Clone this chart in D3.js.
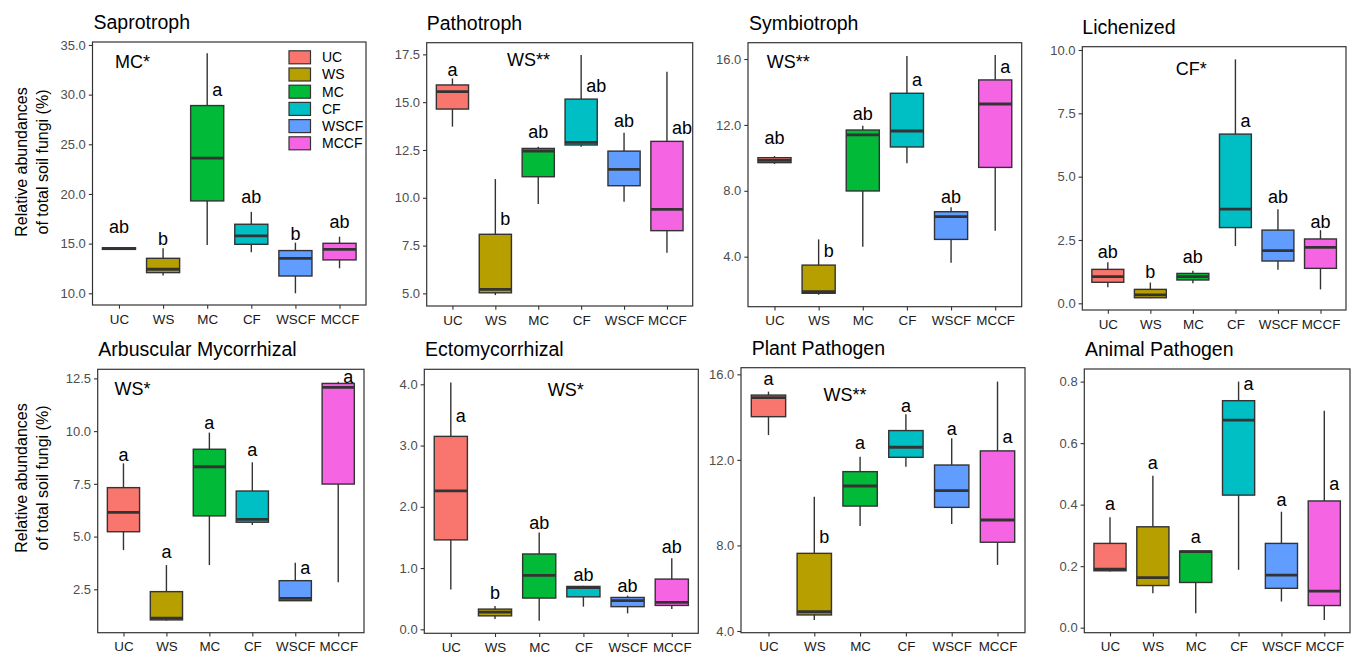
<!DOCTYPE html>
<html>
<head>
<meta charset="utf-8">
<script src="https://cdn.jsdelivr.net/npm/d3@7"></script>
<style>
  body { margin: 0; background: #fff; }
  text { font-family: "Liberation Sans", Arial, sans-serif; }
</style>
</head>
<body>
<div id="container"></div>
<script>
// groups and panel names
var groups = ["UC", "WS", "MC", "CF", "WSCF", "MCCF"];
var titles = ["Saprotroph", "Pathotroph", "Symbiotroph", "Lichenized",
              "Arbuscular Mycorrhizal", "Ectomycorrhizal", "Plant Pathogen", "Animal Pathogen"];

// box stats per group: [lower whisker, q1, median, q3, upper whisker]
var saprotroph = [
  [14.38, 14.42, 14.5, 14.58, 14.62],
  [11.8, 12.08, 12.42, 13.52, 14.53],
  [14.87, 19.3, 23.6, 28.9, 34.16],
  [14.13, 14.93, 15.77, 16.95, 18.2],
  [10.0, 11.74, 13.52, 14.3, 15.1],
  [12.52, 13.36, 14.43, 15.03, 15.7]
];
var pathotroph = [
  [13.72, 14.64, 15.55, 15.9, 16.24],
  [4.91, 5.03, 5.21, 8.09, 10.98],
  [9.67, 11.1, 12.44, 12.58, 12.67],
  [12.67, 12.76, 12.9, 15.16, 17.47],
  [9.79, 10.63, 11.49, 12.44, 13.4],
  [7.13, 8.28, 9.39, 12.95, 16.59]
];
var symbiotroph = [
  [9.63, 9.71, 9.85, 10.01, 10.11],
  [1.69, 1.78, 1.88, 3.49, 5.05],
  [4.61, 7.99, 11.39, 11.69, 11.95],
  [9.67, 10.66, 11.63, 13.92, 16.18],
  [3.64, 5.05, 6.43, 6.73, 7.0],
  [5.58, 9.42, 13.27, 14.73, 16.24]
];
var lichenized = [
  [0.63, 0.83, 1.05, 1.34, 1.62],
  [0.2, 0.22, 0.33, 0.55, 0.82],
  [0.79, 0.92, 1.05, 1.18, 1.29],
  [2.26, 2.99, 3.72, 6.68, 9.63],
  [1.32, 1.67, 2.08, 2.89, 3.71],
  [0.55, 1.38, 2.21, 2.54, 2.89]
];
var arbuscular = [
  [4.36, 5.23, 6.15, 7.32, 8.47],
  [1.02, 1.05, 1.13, 2.39, 3.65],
  [3.65, 5.98, 8.31, 9.14, 9.93],
  [5.55, 5.68, 5.82, 7.16, 8.52],
  [1.94, 1.96, 2.07, 2.91, 3.76],
  [2.83, 7.49, 12.07, 12.26, 12.34]
];
var ectomycorrhizal = [
  [0.65, 1.46, 2.26, 3.15, 4.03],
  [0.17, 0.22, 0.28, 0.33, 0.38],
  [0.14, 0.51, 0.88, 1.23, 1.58],
  [0.37, 0.53, 0.68, 0.70, 0.71],
  [0.26, 0.37, 0.47, 0.52, 0.55],
  [0.33, 0.39, 0.44, 0.82, 1.16]
];
var plantPathogen = [
  [13.16, 14.02, 14.91, 15.03, 15.19],
  [4.51, 4.75, 4.9, 7.63, 10.28],
  [8.91, 9.84, 10.78, 11.45, 12.15],
  [11.68, 12.12, 12.59, 13.37, 14.13],
  [9.0, 9.78, 10.56, 11.76, 13.01],
  [7.09, 8.15, 9.19, 12.42, 15.66]
];
var animalPathogen = [
  [0.183, 0.185, 0.19, 0.274, 0.359],
  [0.112, 0.137, 0.163, 0.328, 0.494],
  [0.047, 0.147, 0.247, 0.249, 0.25],
  [0.188, 0.431, 0.675, 0.738, 0.8],
  [0.085, 0.128, 0.171, 0.274, 0.377],
  [0.025, 0.072, 0.119, 0.412, 0.705]
];
var series = [saprotroph, pathotroph, symbiotroph, lichenized,
              arbuscular, ectomycorrhizal, plantPathogen, animalPathogen];

// significance letters and the value each one sits at
var letters = [
  ["ab", "b", "a", "ab", "b", "ab"],
  ["a", "b", "ab", "ab", "ab", "ab"],
  ["ab", "b", "ab", "a", "ab", "a"],
  ["ab", "b", "ab", "a", "ab", "ab"],
  ["a", "a", "a", "a", "a", "a"],
  ["a", "b", "ab", "ab", "ab", "ab"],
  ["a", "b", "a", "a", "a", "a"],
  ["a", "a", "a", "a", "a", "a"]
];
var letterAt = [
  [16.71, 15.54, 30.47, 19.73, 16.04, 17.21],
  [16.72, 8.92, 13.46, 15.84, 14.03, 13.66],
  [11.24, 4.36, 12.66, 14.73, 7.64, 15.53],
  [2.04, 1.25, 1.84, 7.21, 4.21, 3.22],
  [8.87, 4.29, 10.4, 9.1, 3.54, 12.58],
  [3.48, 0.59, 1.74, 0.89, 0.71, 1.35],
  [15.81, 8.41, 12.82, 14.52, 13.48, 13.09],
  [0.402, 0.538, 0.296, 0.792, 0.415, 0.467]
];
var notes = ["MC*", "WS**", "WS**", "CF*", "WS*", "WS*", "WS**", ""];

// y tick labels and axis ranges
var tickVals = [
  [10, 15, 20, 25, 30, 35],
  [5, 7.5, 10, 12.5, 15, 17.5],
  [4, 8, 12, 16],
  [0, 2.5, 5, 7.5, 10],
  [2.5, 5, 7.5, 10, 12.5],
  [0, 1, 2, 3, 4],
  [4, 8, 12, 16],
  [0, 0.2, 0.4, 0.6, 0.8]
];
var domains = [
  [8.82, 35.3], [4.34, 18.11], [0.965, 16.99], [-0.264, 10.13],
  [0.443, 12.93], [-0.065, 4.245], [3.92, 16.31], [-0.0163, 0.841]
];

var fills = ["#F8766D", "#B79F00", "#00BA38", "#00BFC4", "#619CFF", "#F564E3"];

// panel frames in pixels, plus where the title and the note go
var frames = [
  {x0: 92.5, y0: 42, x1: 366, y1: 305, tdx: 1, nx: 40, ny: 20},
  {x0: 426.7, y0: 42.7, x1: 692.7, y1: 306, tdx: 0, nx: 101.7, ny: 17.3},
  {x0: 748, y0: 42.7, x1: 1021.7, y1: 306.7, tdx: 1, nx: 40.3, ny: 19},
  {x0: 1082.3, y0: 46.7, x1: 1346, y1: 310, tdx: 0, nx: 108.9, ny: 21.7},
  {x0: 97.7, y0: 369.3, x1: 364, y1: 632.7, tdx: 0.6, nx: 34.8, ny: 19},
  {x0: 424.3, y0: 369.3, x1: 698.3, y1: 633.3, tdx: 0.7, nx: 141.5, ny: 20.7},
  {x0: 741, y0: 367.7, x1: 1025, y1: 632.7, tdx: 10.7, nx: 104, ny: 27.3},
  {x0: 1084.3, y0: 369, x1: 1350, y1: 632.7, tdx: 0.7, nx: 0, ny: 0}
];

var svg = d3.select("#container")
  .append("svg")
    .attr("width", 1352)
    .attr("height", 655);

series.forEach(function(data, k) {
  var f = frames[k];
  var g = svg.append("g");

  var x = d3.scalePoint()
    .domain(groups)
    .range([f.x0, f.x1])
    .padding(0.6);
  var bw = x.step() * 0.75;

  var y = d3.scaleLinear()
    .domain(domains[k])
    .range([f.y1, f.y0]);

  // title
  g.append("text")
    .attr("x", f.x0 + f.tdx)
    .attr("y", f.y0 - 13)
    .style("font-size", "19.5px")
    .style("fill", "#000")
    .text(titles[k]);

  // y axis
  var ya = g.append("g")
    .attr("transform", "translate(" + f.x0 + ",0)")
    .call(d3.axisLeft(y).tickValues(tickVals[k]).tickSize(3.7).tickPadding(3)
      .tickFormat(d3.format(".1f")));
  ya.select(".domain").remove();
  ya.selectAll("line").attr("stroke", "#333").attr("stroke-width", 1.1);
  ya.selectAll("text").style("font-size", "13px").style("fill", "#4d4d4d")
    .style("font-family", "Liberation Sans, Arial, sans-serif");

  // x axis
  var xa = g.append("g")
    .attr("transform", "translate(0," + f.y1 + ")")
    .call(d3.axisBottom(x).tickSize(3.7).tickPadding(5.5));
  xa.select(".domain").remove();
  xa.selectAll("line").attr("stroke", "#333").attr("stroke-width", 1.1);
  xa.selectAll("text").style("font-size", "13.4px").style("fill", "#1a1a1a")
    .style("font-family", "Liberation Sans, Arial, sans-serif");

  var rows = data.map(function(d, i) {
    return {g: groups[i], s: d, fill: fills[i], lab: letters[k][i], at: letterAt[k][i]};
  });

  // whiskers
  g.selectAll(".wh").data(rows).enter().append("line")
    .attr("x1", function(d) { return x(d.g); })
    .attr("x2", function(d) { return x(d.g); })
    .attr("y1", function(d) { return y(d.s[0]); })
    .attr("y2", function(d) { return y(d.s[4]); })
    .attr("stroke", "#333")
    .attr("stroke-width", 1.4);

  // boxes
  g.selectAll(".bx").data(rows).enter().append("rect")
    .attr("x", function(d) { return x(d.g) - bw / 2; })
    .attr("y", function(d) { return y(d.s[3]); })
    .attr("width", bw)
    .attr("height", function(d) { return Math.max(0.5, y(d.s[1]) - y(d.s[3])); })
    .attr("fill", function(d) { return d.fill; })
    .attr("stroke", "#333")
    .attr("stroke-width", 1.4);

  // medians
  g.selectAll(".md").data(rows).enter().append("line")
    .attr("x1", function(d) { return x(d.g) - bw / 2; })
    .attr("x2", function(d) { return x(d.g) + bw / 2; })
    .attr("y1", function(d) { return y(d.s[2]); })
    .attr("y2", function(d) { return y(d.s[2]); })
    .attr("stroke", "#333")
    .attr("stroke-width", 2.8);

  // letters: above the whisker, or beside it if they sit lower
  g.selectAll(".lt").data(rows).enter().append("text")
    .attr("x", function(d) {
      return (y(d.s[4]) - y(d.at) < 7) ? x(d.g) + 5 : x(d.g);
    })
    .attr("y", function(d) { return y(d.at); })
    .attr("dy", "0.35em")
    .attr("text-anchor", function(d) {
      return (y(d.s[4]) - y(d.at) < 7) ? "start" : "middle";
    })
    .style("font-size", "18px")
    .style("fill", "#000")
    .text(function(d) { return d.lab; });

  if (notes[k]) {
    g.append("text")
      .attr("x", f.x0 + f.nx)
      .attr("y", f.y0 + f.ny)
      .attr("dy", "0.35em")
      .attr("text-anchor", "middle")
      .style("font-size", "18px")
      .style("fill", "#000")
      .text(notes[k]);
  }

  // panel border
  g.append("rect")
    .attr("x", f.x0)
    .attr("y", f.y0)
    .attr("width", f.x1 - f.x0)
    .attr("height", f.y1 - f.y0)
    .attr("fill", "none")
    .attr("stroke", "#333")
    .attr("stroke-width", 1.2);

  // legend lives inside the first panel
  if (k === 0) {
    var lg = g.selectAll(".lg").data(groups).enter().append("g")
      .attr("transform", function(d, i) { return "translate(289," + (57.3 + i * 17.2) + ")"; });
    lg.append("rect")
      .attr("x", 0)
      .attr("y", -6.5)
      .attr("width", 21.5)
      .attr("height", 13)
      .attr("fill", function(d, i) { return fills[i]; })
      .attr("stroke", "#333")
      .attr("stroke-width", 1.2);
    lg.append("text")
      .attr("x", 33)
      .attr("y", 0)
      .attr("dy", "0.35em")
      .style("font-size", "14px")
      .style("fill", "#000")
      .text(function(d) { return d; });
  }
});

// shared y titles, one per row
[162, 478].forEach(function(cy) {
  var t = svg.append("text")
    .attr("transform", "translate(0," + cy + ") rotate(-90)")
    .attr("text-anchor", "middle")
    .style("font-size", "16px")
    .style("fill", "#000");
  t.append("tspan").attr("x", 0).attr("y", 21).attr("dy", "0.35em").text("Relative abundances");
  t.append("tspan").attr("x", 0).attr("y", 42).attr("dy", "0.35em").text("of total soil fungi (%)");
});
</script>
</body>
</html>
